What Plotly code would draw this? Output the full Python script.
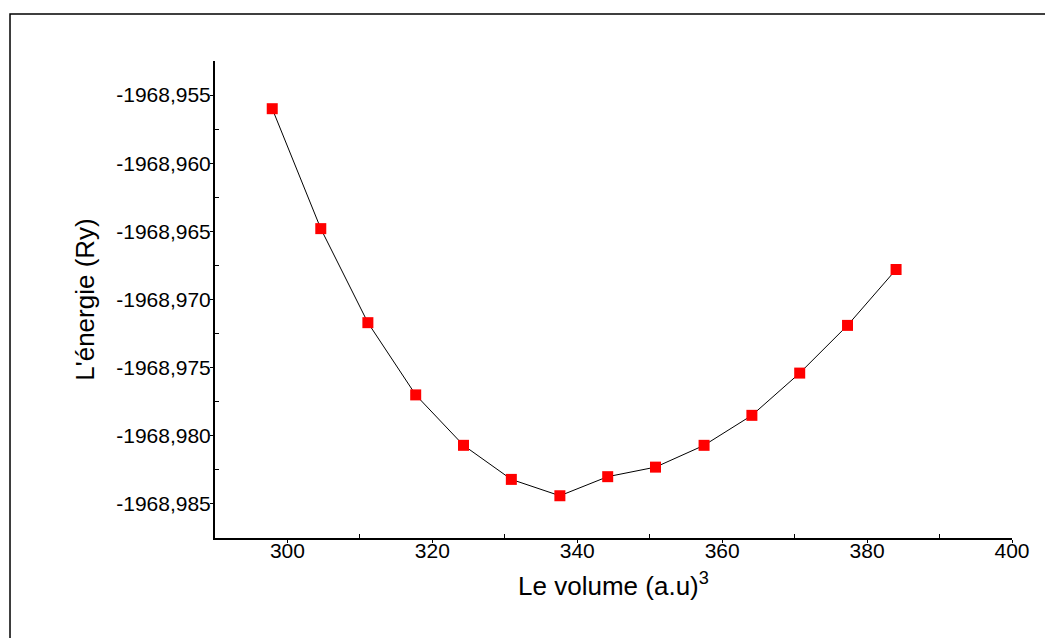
import plotly.graph_objects as go

volume = [297.9, 304.6, 311.1, 317.7, 324.3, 330.9, 337.6, 344.2, 350.8, 357.5, 364.1, 370.7, 377.3, 384.0]
energy = [-1968.9560, -1968.9648, -1968.9717, -1968.9770, -1968.9807, -1968.9832, -1968.9844,
          -1968.9830, -1968.9823, -1968.9807, -1968.9785, -1968.9754, -1968.9719, -1968.9678]

x_ticks = [300, 320, 340, 360, 380, 400]
x_minor = [310, 330, 350, 370, 390]
y_ticks = [-1968.985, -1968.980, -1968.975, -1968.970, -1968.965, -1968.960, -1968.955]
y_minor = [-1968.9825, -1968.9775, -1968.9725, -1968.9675, -1968.9625, -1968.9575]
y_labels = [f"{v:.3f}".replace(".", ",") for v in y_ticks]

fig = go.Figure()
fig.add_trace(go.Scatter(
    x=volume, y=energy, mode="lines+markers",
    line=dict(color="black", width=1),
    marker=dict(symbol="square", size=11, color="#ff0000", line=dict(width=0)),
    showlegend=False,
))

font_family = "Liberation Sans, Arial, sans-serif"
fig.update_layout(
    width=1045, height=638,
    margin=dict(l=215, r=33, t=61, b=100),
    paper_bgcolor="white", plot_bgcolor="white",
    font=dict(family=font_family, color="black"),
    xaxis=dict(
        range=[290, 400], tickvals=x_ticks,
        showgrid=False, zeroline=False,
        showline=True, linecolor="black", linewidth=2,
        ticks="outside", ticklen=3, tickwidth=1, tickcolor="black",
        ticklabelstandoff=-10,
        minor=dict(tickvals=x_minor, ticks="inside", ticklen=4, tickcolor="black"),
        tickfont=dict(size=21),
        title=dict(text="Le volume (a.u)<sup>3</sup>", font=dict(size=26), standoff=16),
    ),
    yaxis=dict(
        range=[-1968.9875, -1968.9525],
        tickvals=y_ticks, ticktext=y_labels,
        showgrid=False, zeroline=False,
        showline=True, linecolor="black", linewidth=2,
        ticks="outside", ticklen=3, tickwidth=1, tickcolor="black",
        ticklabelstandoff=-5,
        minor=dict(tickvals=y_minor, ticks="inside", ticklen=4, tickcolor="black"),
        tickfont=dict(size=21),
        title=dict(text="L'énergie (Ry)", font=dict(size=26), standoff=14),
    ),
    shapes=[dict(type="rect", xref="paper", yref="paper",
                 x0=-0.2572, y0=-0.3, x1=1.1, y1=1.0985,
                 line=dict(color="black", width=1.5), fillcolor="rgba(0,0,0,0)", layer="below")],
)

fig.write_html("out.html")
